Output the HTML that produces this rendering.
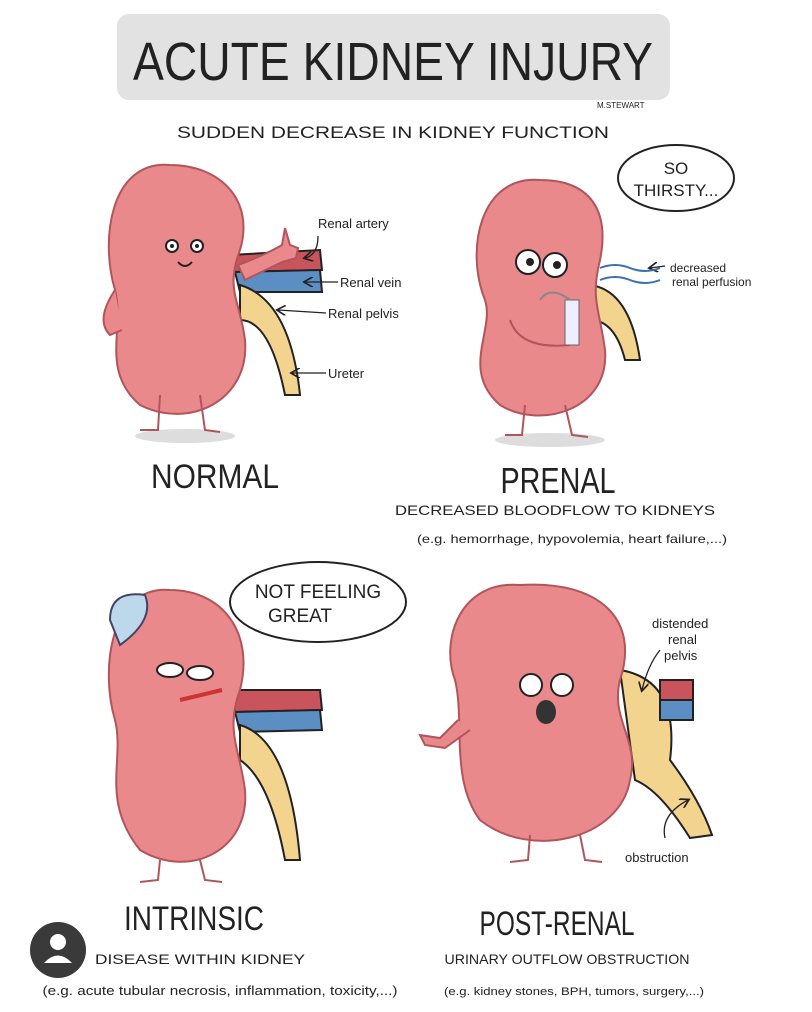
<!DOCTYPE html>
<html><head><style>
body{margin:0;background:#fff;width:812px;height:1012px;overflow:hidden}
svg{display:block}
text{font-family:"Liberation Sans",sans-serif;fill:#222}
</style></head><body>
<svg width="812" height="1012" viewBox="0 0 812 1012">
<defs><marker id="a" markerWidth="8" markerHeight="8" refX="6" refY="4" orient="auto"><path d="M0 0 L7 4 L0 8" fill="none" stroke="#222" stroke-width="1.3"/></marker></defs>
<rect x="117" y="14" width="553" height="86" rx="12" fill="#e2e2e2"/>
<text x="393" y="80" font-size="54" text-anchor="middle" textLength="520" lengthAdjust="spacingAndGlyphs">ACUTE KIDNEY INJURY</text>
<text x="597" y="108" font-size="8" fill="#888">M.STEWART</text>
<text x="393" y="138" font-size="17" text-anchor="middle" textLength="432" lengthAdjust="spacingAndGlyphs">SUDDEN DECREASE IN KIDNEY FUNCTION</text>

<g stroke="#b0555c" stroke-width="2" fill="#e9898c">
<!-- normal -->
<ellipse cx="185" cy="436" rx="50" ry="7" fill="#ddd" stroke="none"/>
<path d="M230 255 L320 250 L322 270 L235 272Z" fill="#c9545c" stroke="#222"/>
<path d="M235 272 L320 270 L322 292 L240 292Z" fill="#5b8fc4" stroke="#222"/>
<path d="M240 285 Q290 300 300 395 L285 395 Q270 320 240 320Z" fill="#f2d48e" stroke="#222"/>
<path d="M170 165 C110 160 100 240 115 290 C125 330 100 370 140 405 C190 430 250 400 245 340 C240 300 225 290 240 250 C255 200 220 165 170 165Z"/>
<path d="M115 290 Q95 320 110 335 L122 330" fill="#e9898c"/>
<path d="M238 265 Q265 255 282 245 L285 228 L290 245 L298 248 L296 258 L282 262 L245 280Z"/>
<path d="M160 395 L158 430 L140 430 M200 395 L205 430 L220 432" fill="none"/>
<!-- prenal -->
<ellipse cx="550" cy="440" rx="55" ry="7" fill="#ddd" stroke="none"/>
<path d="M590 285 Q630 290 640 360 L625 360 Q615 320 590 320Z" fill="#f2d48e" stroke="#222"/>
<path d="M540 180 C480 175 465 250 485 300 C495 330 460 370 500 405 C540 430 610 410 605 350 C600 310 590 300 600 260 C610 210 590 180 540 180Z"/>
<path d="M525 405 L522 435 L505 435 M565 405 L572 435 L588 437" fill="none"/>
<path d="M510 320 Q520 350 570 345" fill="none"/>
<!-- intrinsic -->
<path d="M235 690 L320 690 L322 710 L235 712Z" fill="#c9545c" stroke="#222"/>
<path d="M235 712 L320 710 L322 730 L240 732Z" fill="#5b8fc4" stroke="#222"/>
<path d="M240 725 Q290 740 300 860 L285 860 Q270 780 240 760Z" fill="#f2d48e" stroke="#222"/>
<path d="M170 590 C110 585 100 670 115 720 C125 760 100 800 140 850 C190 880 250 850 245 790 C240 750 225 730 240 690 C255 630 220 590 170 590Z"/>
<path d="M160 860 L158 880 L140 882 M200 860 L205 880 L222 882" fill="none"/>
<path d="M110 620 Q110 590 145 595 Q155 620 120 645Z" fill="#bcd8ea" stroke="#446"/>
<!-- post-renal -->
<path d="M620 670 Q680 680 670 760 Q700 800 712 835 L690 838 Q660 790 635 780Z" fill="#f2d48e" stroke="#222"/>
<path d="M660 680 L693 680 L693 700 L660 700Z" fill="#c9545c" stroke="#222"/>
<path d="M660 700 L693 700 L693 720 L660 720Z" fill="#5b8fc4" stroke="#222"/>
<path d="M520 585 C460 580 440 640 455 680 C465 720 450 780 480 820 C530 860 620 840 630 780 C640 740 610 720 620 680 C640 620 600 580 520 585Z"/>
<path d="M458 720 L440 738 L420 735 L425 745 L445 748 L470 730" />
<path d="M530 835 L528 860 L510 862 M580 835 L585 860 L602 862" fill="none"/>
</g>
<!-- faces -->
<g fill="#fff" stroke="#222" stroke-width="2">
<circle cx="172" cy="246" r="6"/><circle cx="197" cy="246" r="6"/>
<circle cx="528" cy="262" r="12"/><circle cx="555" cy="265" r="12"/>
<ellipse cx="170" cy="670" rx="13" ry="7"/><ellipse cx="200" cy="673" rx="13" ry="7"/>
<circle cx="531" cy="685" r="11"/><circle cx="562" cy="685" r="11"/>
</g>
<circle cx="172" cy="246" r="2" fill="#222"/><circle cx="197" cy="246" r="2" fill="#222"/>
<circle cx="530" cy="262" r="4" fill="#222"/><circle cx="557" cy="265" r="4" fill="#222"/>
<path d="M178 262 Q185 270 192 262" stroke="#222" stroke-width="2" fill="none"/>
<ellipse cx="546" cy="712" rx="10" ry="12" fill="#333"/>
<path d="M180 700 L222 690" stroke="#c33" stroke-width="4"/>
<rect x="565" y="300" width="14" height="45" fill="#eef" stroke="#666"/>
<path d="M540 300 Q550 285 570 300" stroke="#888" stroke-width="2" fill="none"/>

<g stroke="#222" stroke-width="1.3" fill="none" marker-end="url(#a)">
<path d="M318 236 Q318 255 305 258"/>
<path d="M338 282 L305 282"/>
<path d="M326 313 L278 310"/>
<path d="M326 373 L292 373"/>
<path d="M665 266 L650 268"/>
<path d="M660 650 Q648 665 642 690"/>
<path d="M665 838 Q660 815 688 800"/>
</g>
<g font-size="13" fill="#222">
<text x="318" y="228">Renal artery</text>
<text x="340" y="287">Renal vein</text>
<text x="328" y="318">Renal pelvis</text>
<text x="328" y="378">Ureter</text>
<text x="670" y="272" font-size="12">decreased</text>
<text x="672" y="286" font-size="12">renal perfusion</text>
<text x="652" y="628">distended</text>
<text x="668" y="644">renal</text>
<text x="664" y="660">pelvis</text>
<text x="625" y="862">obstruction</text>
</g>
<path d="M600 268 Q615 262 630 268 T660 268 M600 280 Q615 274 630 280 T660 280" stroke="#3a6fb0" stroke-width="2" fill="none"/>

<ellipse cx="676" cy="178" rx="58" ry="33" fill="#fff" stroke="#222" stroke-width="2"/>
<text x="676" y="174" font-size="17" text-anchor="middle">SO</text>
<text x="676" y="196" font-size="17" text-anchor="middle">THIRSTY...</text>
<ellipse cx="318" cy="602" rx="88" ry="40" fill="#fff" stroke="#222" stroke-width="2"/>
<text x="318" y="598" font-size="19" text-anchor="middle">NOT FEELING</text>
<text x="300" y="622" font-size="19" text-anchor="middle">GREAT</text>

<text x="215" y="488" font-size="34" text-anchor="middle" textLength="128" lengthAdjust="spacingAndGlyphs">NORMAL</text>
<text x="558" y="493" font-size="36" text-anchor="middle" textLength="115" lengthAdjust="spacingAndGlyphs">PRENAL</text>
<text x="555" y="515" font-size="14" text-anchor="middle" textLength="320" lengthAdjust="spacingAndGlyphs">DECREASED BLOODFLOW TO KIDNEYS</text>
<text x="572" y="543" font-size="12" text-anchor="middle" textLength="310" lengthAdjust="spacingAndGlyphs">(e.g. hemorrhage, hypovolemia, heart failure,...)</text>
<text x="194" y="930" font-size="34" text-anchor="middle" textLength="140" lengthAdjust="spacingAndGlyphs">INTRINSIC</text>
<text x="200" y="964" font-size="14" text-anchor="middle" textLength="210" lengthAdjust="spacingAndGlyphs">DISEASE WITHIN KIDNEY</text>
<text x="220" y="995" font-size="13" text-anchor="middle" textLength="355" lengthAdjust="spacingAndGlyphs">(e.g. acute tubular necrosis, inflammation, toxicity,...)</text>
<text x="557" y="935" font-size="34" text-anchor="middle" textLength="155" lengthAdjust="spacingAndGlyphs">POST-RENAL</text>
<text x="567" y="964" font-size="14" text-anchor="middle" textLength="245" lengthAdjust="spacingAndGlyphs">URINARY OUTFLOW OBSTRUCTION</text>
<text x="574" y="995" font-size="11" text-anchor="middle" textLength="260" lengthAdjust="spacingAndGlyphs">(e.g. kidney stones, BPH, tumors, surgery,...)</text>

<circle cx="58" cy="950" r="28" fill="#3a3a3a"/>
<circle cx="58" cy="942" r="8" fill="#fff"/>
<path d="M44 963 Q58 948 72 963Z" fill="#fff"/>
</svg>
</body></html>
